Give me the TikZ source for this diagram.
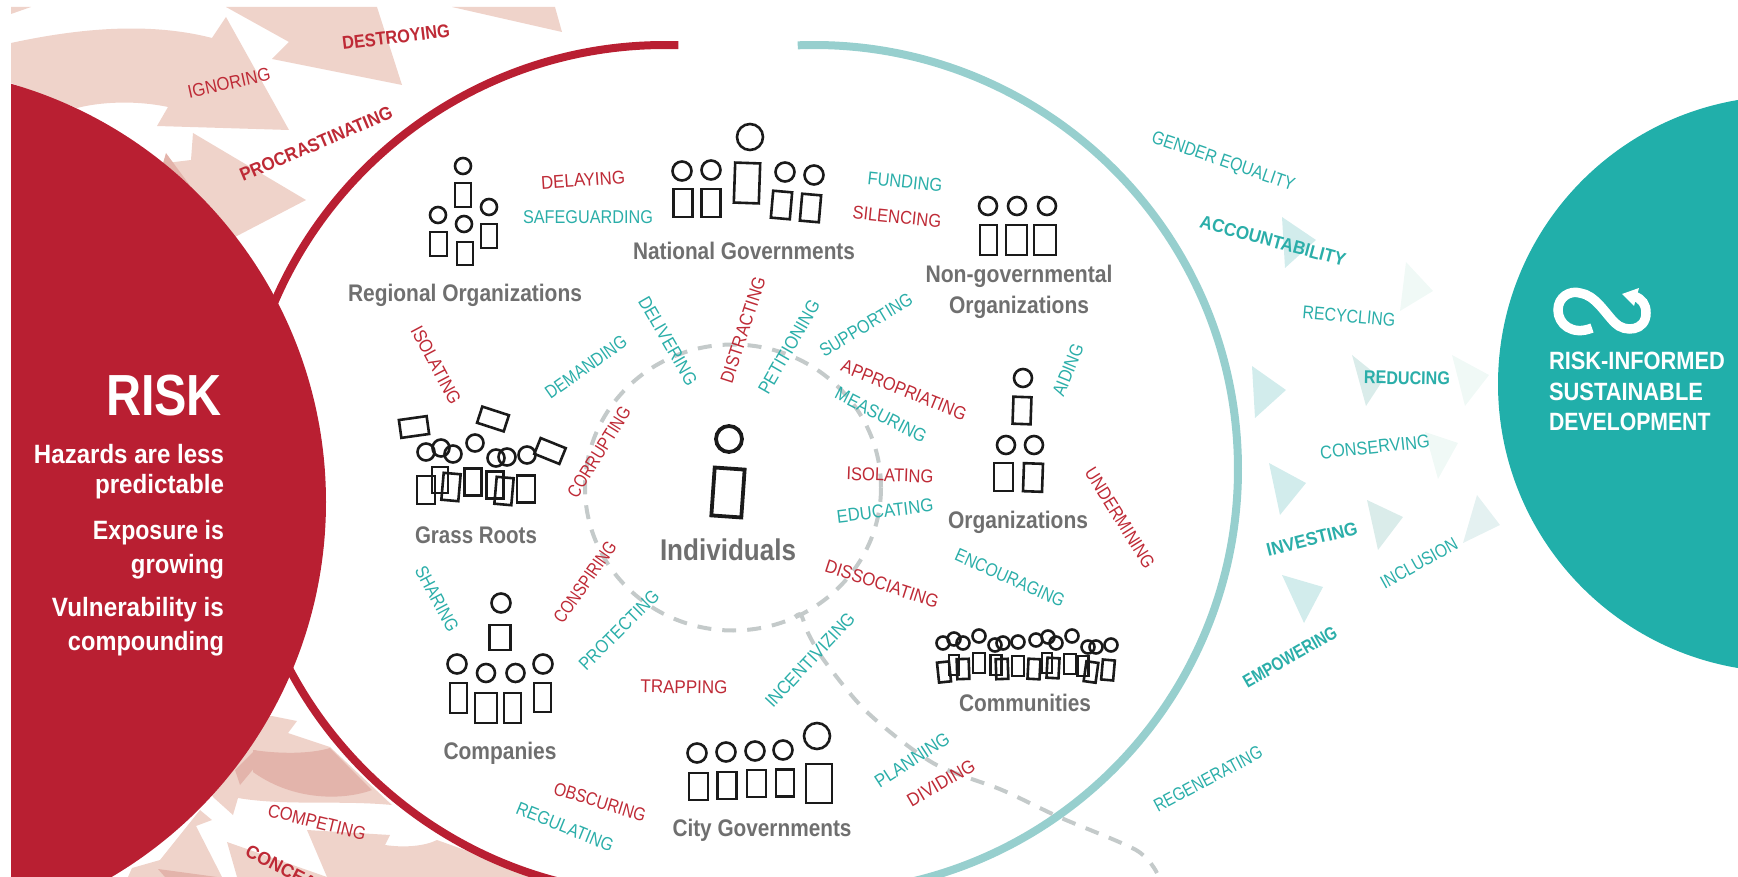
\documentclass[tikz,border=0pt]{standalone}
\usepackage{graphicx}
\usepackage{fontspec}
\setmainfont{Liberation Sans}
\definecolor{riskred}{HTML}{B91F32}
\definecolor{sdgteal}{HTML}{21AFAA}
\definecolor{arcteal}{HTML}{97CFCE}
\definecolor{pale}{HTML}{EFD3CA}
\definecolor{paledark}{HTML}{E3B4AB}
\definecolor{labred}{HTML}{BE2A36}
\definecolor{labteal}{HTML}{2BAEA9}
\definecolor{labgray}{HTML}{6F6F6F}
\definecolor{dashgray}{HTML}{C4CACA}
\definecolor{iconblack}{HTML}{1A1A1A}
\definecolor{triA}{HTML}{D2ECEC}
\definecolor{triB}{HTML}{F0F9F6}
\definecolor{triC}{HTML}{DAECEA}
\definecolor{triD}{HTML}{E4F1F1}
\tikzset{
  lab/.style={inner sep=0pt,outer sep=0pt},
  redlab/.style={lab,text=labred,font=\fontsize{18.5}{18.5}\selectfont},
  teallab/.style={lab,text=labteal,font=\fontsize{18.5}{18.5}\selectfont},
  redbold/.style={lab,text=labred,font=\bfseries\fontsize{18.5}{18.5}\selectfont},
  tealbold/.style={lab,text=labteal,font=\bfseries\fontsize{18.5}{18.5}\selectfont},
  graybold/.style={lab,text=labgray,font=\bfseries\fontsize{24}{24}\selectfont},
  graybig/.style={lab,text=labgray,font=\bfseries\fontsize{30}{30}\selectfont},
  whitebold/.style={lab,text=white,anchor=east,font=\bfseries\fontsize{26.5}{26.5}\selectfont},
  whitehead/.style={lab,text=white,anchor=west,font=\bfseries\fontsize{25}{25}\selectfont},
  whitetitle/.style={lab,text=white,anchor=east,font=\bfseries\fontsize{58}{58}\selectfont},
  icon/.style={draw=iconblack,line width=2.6pt},
  iconthick/.style={draw=iconblack,line width=3.8pt},
  bigarc/.style={line width=8pt,line cap=butt},
  dashline/.style={draw=dashgray,line width=4pt,dash pattern=on 14pt off 11pt},
}
\newcommand\lab[7]{\node[#6,rotate=#4] (#1) at (#2,#3) {\resizebox{#5pt}{\height}{#7}};}
\newcommand\psnb[5]{\draw[icon,shift={(#1,#2)},rotate=#5] ({-#3/2},{-#4/2}) rectangle ({#3/2},{#4/2});}
\newcommand\psnh[3]{\draw[icon] (#1,#2) circle (#3pt);}
\begin{document}
\begin{tikzpicture}[x=1pt,y=-1pt]
\useasboundingbox (0,0) rectangle (1738,877);
\begin{scope}
\clip (11,7) rectangle (1738,877);
% pale arrows, top
\fill[pale] (11,7) -- (31,7) -- (11,14) -- cycle;
\fill[pale] (11,43) .. controls (80,28) and (150,22) .. (212,38) -- (226,17) -- (289,130) -- (157,126) -- (168,107) .. controls (135,100) and (100,102) .. (77,108) -- (11,83) -- cycle;
\fill[pale] (226,7) -- (289,42) -- (272,59) -- (402,85) -- (377,7) -- cycle;
\fill[pale] (452,7) -- (562,32) -- (555,7) -- cycle;
\fill[pale] (193,133) -- (306,200) -- (235,237) -- (150,200) -- (150,165) -- (191,160) -- cycle;
\fill[paledark] (166,153) -- (191,187) -- (161,170) -- cycle;
% pale arrows, bottom
\fill[pale] (272,716) -- (297,721) -- (288,733) -- (330,747) -- (392,805) .. controls (340,800) and (285,806) .. (238,798) -- (233,815) -- (213,797) -- (200,760) -- (240,716) -- cycle;
\fill[paledark] (253,750) .. controls (280,754) and (310,754) .. (330,748) -- (372,790) .. controls (345,800) and (295,802) .. (253,772) -- cycle;
\fill[paledark] (235,770) -- (255,750) -- (265,755) -- (240,785) -- cycle;
\fill[pale] (200,810) -- (212,820) -- (196,826) -- (222,877) -- (128,877) -- (132,868) -- (160,860) -- cycle;
\fill[paledark] (158,869) -- (217,877) -- (165,877) -- cycle;
\fill[pale] (227,842) -- (327,877) -- (237,877) -- cycle;
\fill[pale] (307,830) -- (390,835) -- (385,845) .. controls (405,848) and (425,846) .. (437,840) -- (540,877) -- (327,877) -- cycle;
% triangles
\fill[triA] (1282,217) -- (1316,240) -- (1285,268) -- cycle;
\fill[triB] (1406,262) -- (1433,291) -- (1400,311) -- cycle;
\fill[triA] (1252,366) -- (1286,390) -- (1255,418) -- cycle;
\fill[triC] (1352,355) -- (1383,380) -- (1366,406) -- cycle;
\fill[triB] (1452,355) -- (1489,375) -- (1465,406) -- cycle;
\fill[triB] (1425,432) -- (1458,443) -- (1438,479) -- cycle;
\fill[triA] (1269,463) -- (1306,483) -- (1280,515) -- cycle;
\fill[triC] (1367,500) -- (1403,517) -- (1378,550) -- cycle;
\fill[triD] (1477,495) -- (1500,525) -- (1463,543) -- cycle;
\fill[triA] (1282,575) -- (1323,587) -- (1304,623) -- cycle;
% big arcs
\draw[bigarc,draw=riskred] (665,470) ++(88.2:425pt) arc[start angle=88.2,end angle=268,radius=425pt];
\draw[bigarc,draw=arcteal] (814,469) ++(92.2:424pt) arc[start angle=92.2,end angle=-85,radius=424pt];
% dashed
\draw[dashline] (733,487.5) ellipse [x radius=148pt,y radius=143pt];
\draw[dashline] plot[smooth] coordinates {(795,617) (801,615) (809,635) (826,663) (868,713) (933,763) (1002,790) (1059,817) (1136,850) (1157,873)};
% discs
\fill[riskred] (-109,502) circle (435pt);
\fill[sdgteal] (1786,384) circle (288pt);
\end{scope}
% Regional
\psnh{463}{166}{8}\psnh{438}{215}{8}\psnh{489}{207}{8}\psnh{464}{224}{8}
\psnb{463}{195}{16}{24}{0}\psnb{438.5}{244}{17}{24}{0}\psnb{489}{236}{16}{24}{0}\psnb{465}{253.5}{16}{23}{0}
% National
\psnh{750}{137}{13}\psnh{682}{171}{9.5}\psnh{711}{170}{9.5}\psnh{785}{172}{9.5}\psnh{814}{175}{9.5}
\psnb{747}{183}{25}{40}{-2}\psnb{683}{203}{19}{28}{0}\psnb{711}{203}{18.5}{28}{0}\psnb{781.5}{205}{19}{27}{-5}\psnb{810.5}{208}{19}{27}{-5}
% NGO
\psnh{988}{206}{9}\psnh{1017}{206}{9}\psnh{1047}{206}{9}
\psnb{988.5}{240}{17}{30}{0}\psnb{1016.5}{240}{21}{30}{0}\psnb{1045}{240}{22}{30}{0}
% Organizations
\psnh{1023}{378}{9}\psnh{1006}{445}{9}\psnh{1034}{445}{9}
\psnb{1022}{410.5}{18}{27}{-2}\psnb{1003.5}{477}{19}{28}{0}\psnb{1033}{477.5}{19}{28}{-2}
% Individuals
\draw[iconthick] (729,439) circle (13pt);
\draw[iconthick,shift={(728,492.5)},rotate=-4] (-15,-24) rectangle (15,24);
% Grass roots
\psnb{414}{427}{28}{18}{8}\psnb{493}{419}{28}{17}{-18}\psnb{550}{451}{27}{17}{-22}
\psnh{426}{452}{8.5}\psnh{441}{448}{8.5}\psnh{453}{454}{8.5}\psnh{475}{443}{8.5}\psnh{496}{458}{8.5}\psnh{507}{457}{8.5}\psnh{527}{455}{8.5}
\psnb{426}{490}{18}{28}{0}\psnb{440}{480}{16}{26}{0}\psnb{451}{487}{17}{27}{-5}\psnb{473}{482}{17}{27}{0}\psnb{495}{485}{17}{27}{0}\psnb{504}{491}{17}{27}{-5}\psnb{526}{489}{18}{27}{0}
% Companies
\psnh{501}{603}{9.5}\psnh{457}{664}{9.5}\psnh{486}{673}{9}\psnh{515.5}{673}{9}\psnh{543}{664}{9.5}
\psnb{500}{637.5}{21}{25}{0}\psnb{458.5}{698}{17}{30}{0}\psnb{486}{708}{22}{30}{0}\psnb{512.5}{708}{17}{30}{0}\psnb{542.5}{697.5}{17}{29}{0}
% City
\psnh{697}{753}{9.5}\psnh{726}{752}{9.5}\psnh{755}{751}{9.5}\psnh{783}{750}{9.5}\psnh{817}{736}{13}
\psnb{698.5}{786.5}{19}{27}{0}\psnb{727}{785.5}{19}{27}{0}\psnb{756.5}{783.5}{19}{27}{0}\psnb{785}{783}{18}{27}{0}\psnb{819}{783.5}{26}{39}{0}
% Communities
\psnh{943}{643}{6.5}\psnh{954}{639}{6.5}\psnh{963}{643}{6.5}\psnh{979}{636}{6.5}\psnh{995}{645}{6.5}\psnh{1003}{643}{6.5}\psnh{1018}{642}{6.5}\psnh{1036}{640}{6.5}\psnh{1048}{637}{6.5}\psnh{1056}{643}{6.5}\psnh{1072}{636}{6.5}\psnh{1088}{647}{6.5}\psnh{1096}{647}{6.5}\psnh{1111}{645}{6.5}
\psnb{944}{672}{12}{20}{6}\psnb{954}{665}{10}{20}{0}\psnb{963}{669}{12}{20}{2}\psnb{979}{663}{12}{20}{0}\psnb{996}{665}{11}{20}{0}\psnb{1002}{669}{12}{20}{2}\psnb{1018}{666}{12}{20}{0}\psnb{1034}{669}{12}{20}{-3}\psnb{1047}{663}{10}{20}{0}\psnb{1053}{668}{12}{20}{-3}\psnb{1070}{664}{12}{20}{0}\psnb{1083}{666}{11}{20}{0}\psnb{1091}{672}{12}{20}{-8}\psnb{1108}{670}{12}{20}{-5}
% Infinity symbol
\draw[white,line width=9.5pt,line cap=butt] (1592,328) .. controls (1572,336) and (1558,324) .. (1558,310) .. controls (1558,297) and (1570,290) .. (1580,293) .. controls (1595,295) and (1605,313) .. (1615,323) .. controls (1625,333) and (1646,331) .. (1646,313) .. controls (1646,304) and (1642,299) .. (1634,296);
\fill[white] (1622,294) -- (1639,288) -- (1634,306) -- cycle;
% Gray labels
\lab{regional}{465}{295}{0}{234}{graybold}{Regional Organizations}
\lab{national}{744}{251}{0}{222}{graybold}{National Governments}
\lab{ngoa}{1019}{276.5}{0}{187}{graybold}{Non-governmental}
\lab{ngob}{1019}{307}{0}{140}{graybold}{Organizations}
\lab{orgs}{1018}{522}{0}{140}{graybold}{Organizations}
\lab{grass}{476}{535}{0}{122}{graybold}{Grass Roots}
\lab{companies}{500}{753}{0}{113}{graybold}{Companies}
\lab{city}{762}{830}{0}{179}{graybold}{City Governments}
\lab{communities}{1025}{703}{0}{132}{graybold}{Communities}
\lab{individuals}{728}{550}{0}{136}{graybig}{Individuals}
% Red labels
\lab{destroying}{396}{37}{7}{108}{redbold}{DESTROYING}
\lab{ignoring}{229}{83}{12.5}{84}{redlab}{IGNORING}
\lab{procrast}{316}{144}{23}{164}{redbold}{PROCRASTINATING}
\lab{delaying}{583}{180}{4}{84}{redlab}{DELAYING}
\lab{silencing}{897}{217}{-6}{89}{redlab}{SILENCING}
\lab{isolatingA}{436}{365}{-62}{86}{redlab}{ISOLATING}
\lab{distracting}{743}{330}{72}{110}{redlab}{DISTRACTING}
\lab{appropriating}{904}{390}{-22}{133}{redlab}{APPROPRIATING}
\lab{isolatingB}{890}{475}{-2}{87}{redlab}{ISOLATING}
\lab{dissociating}{882}{584}{-18}{118}{redlab}{DISSOCIATING}
\lab{undermining}{1120}{518}{-58}{115}{redlab}{UNDERMINING}
\lab{trapping}{684}{687}{-1}{87}{redlab}{TRAPPING}
\lab{dividing}{941}{783}{30}{75}{redlab}{DIVIDING}
\lab{obscuring}{600}{802}{-17}{95}{redlab}{OBSCURING}
\lab{conspiring}{585}{582}{55}{95}{redlab}{CONSPIRING}
\lab{corrupting}{599}{452}{58}{103}{redlab}{CORRUPTING}
\lab{competing}{317}{822}{-14}{100}{redlab}{COMPETING}
\lab{concealing}{247}{850}{-27}{118}{redbold,anchor=west}{CONCEALING}
% Teal labels
\lab{safeguarding}{588}{217}{0}{130}{teallab}{SAFEGUARDING}
\lab{funding}{905}{182}{-6}{75}{teallab}{FUNDING}
\lab{demanding}{586}{367}{35}{95}{teallab}{DEMANDING}
\lab{delivering}{668}{341}{-60}{99}{teallab}{DELIVERING}
\lab{petitioning}{789}{347}{60}{105}{teallab}{PETITIONING}
\lab{supporting}{866}{325}{31}{105}{teallab}{SUPPORTING}
\lab{measuring}{881}{415}{-27}{100}{teallab}{MEASURING}
\lab{aiding}{1068}{370}{68}{55}{teallab}{AIDING}
\lab{educating}{885}{511}{7}{97}{teallab}{EDUCATING}
\lab{encouraging}{1010}{578}{-24}{118}{teallab}{ENCOURAGING}
\lab{incentivizing}{810}{660}{47}{122}{teallab}{INCENTIVIZING}
\lab{planning}{912}{760}{33}{85}{teallab}{PLANNING}
\lab{regulating}{565}{827}{-22}{103}{teallab}{REGULATING}
\lab{protecting}{619}{630}{45}{105}{teallab}{PROTECTING}
\lab{sharing}{437}{599}{-62}{72}{teallab}{SHARING}
\lab{gender}{1223}{162}{-19}{150}{teallab}{GENDER EQUALITY}
\lab{accountability}{1273}{241}{-15}{150}{tealbold}{ACCOUNTABILITY}
\lab{recycling}{1349}{316}{-5}{93}{teallab}{RECYCLING}
\lab{reducing}{1407}{378}{-1}{86}{tealbold}{REDUCING}
\lab{conserving}{1375}{447}{6}{110}{teallab}{CONSERVING}
\lab{investing}{1312}{539}{14}{93}{tealbold}{INVESTING}
\lab{inclusion}{1419}{563}{29}{85}{teallab}{INCLUSION}
\lab{empowering}{1290}{657}{30}{105}{tealbold}{EMPOWERING}
\lab{regenerating}{1208}{779}{28}{120}{teallab}{REGENERATING}
% White text
\lab{risk}{222}{396}{0}{116}{whitetitle}{RISK}
\lab{hazA}{224}{454}{0}{190}{whitebold}{Hazards are less}
\lab{hazB}{224}{487}{0}{129}{whitebold}{predictable}
\lab{expA}{224}{533}{0}{131}{whitebold}{Exposure is}
\lab{expB}{224}{567}{0}{93}{whitebold}{growing}
\lab{vulA}{224}{610}{0}{172}{whitebold}{Vulnerability is}
\lab{vulB}{224}{644}{0}{156}{whitebold}{compounding}
\lab{sdgA}{1549}{361}{0}{176}{whitehead}{RISK-INFORMED}
\lab{sdgB}{1549}{392}{0}{154}{whitehead}{SUSTAINABLE}
\lab{sdgC}{1549}{422}{0}{161.5}{whitehead}{DEVELOPMENT}
\end{tikzpicture}
\end{document}
